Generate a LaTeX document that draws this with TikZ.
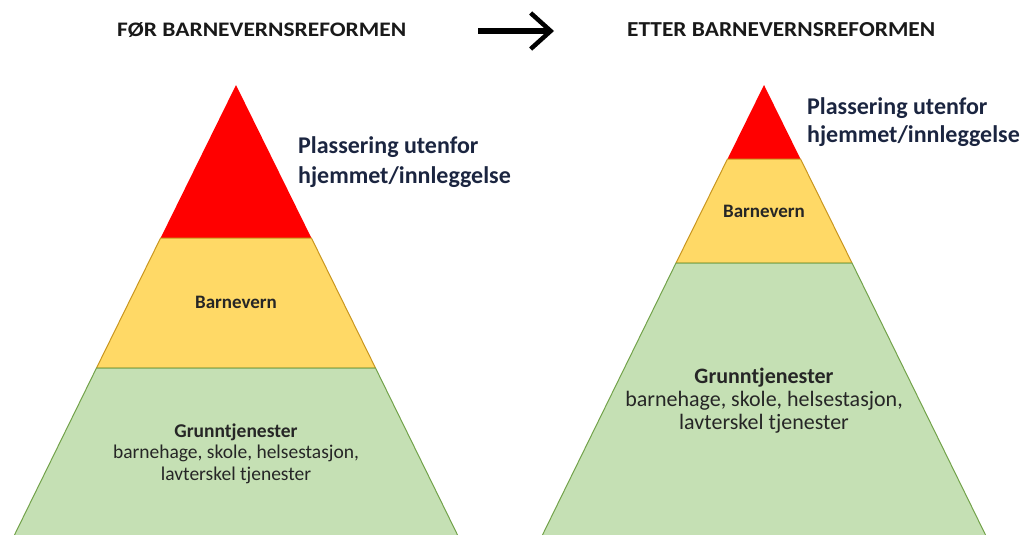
\documentclass[tikz,border=0pt]{standalone}
\usepackage{fontspec}
\setmainfont{Carlito}
\usetikzlibrary{arrows.meta}
\definecolor{redL}{HTML}{FF0000}
\definecolor{yelL}{HTML}{FFD966}
\definecolor{yelE}{HTML}{C9961F}
\definecolor{grnL}{HTML}{C5E0B4}
\definecolor{grnE}{HTML}{72A24A}
\definecolor{navy}{HTML}{1B2540}
\definecolor{inner}{HTML}{262626}
\tikzset{
  lbl/.style={inner sep=0pt, anchor=base, align=center, text=inner},
  side/.style={inner sep=0pt, anchor=base west, align=left, text=navy},
  ttl/.style={inner sep=0pt, anchor=base west, text=black!90},
  layer/.style={line width=1pt, line join=round}
}
\begin{document}
\begin{tikzpicture}[x=1pt,y=-1pt]
\useasboundingbox (0,0) rectangle (1030,535);
\clip (0,0) rectangle (1030,535);
% titles
\node[ttl] (t1) at (117,37) {\resizebox{289pt}{14pt}{\bfseries FØR BARNEVERNSREFORMEN}};
\node[ttl] (t2) at (627,37) {\resizebox{308pt}{14pt}{\bfseries ETTER BARNEVERNSREFORMEN}};
\coordinate (a1) at (478,31);
\coordinate (a2) at (554,31);
\draw[line width=6pt, -{Straight Barb[length=20pt, width=36pt, line width=4.5pt]}] (a1) -- (a2);
% left pyramid
\fill[redL] (236,85) -- (311.4,238) -- (160.6,238) -- cycle;
\draw[layer, fill=yelL, draw=yelE] (160.6,238) -- (311.4,238) -- (375.5,368) -- (96.5,368) -- cycle;
\draw[layer, fill=grnL, draw=grnE] (96.5,368) -- (375.5,368) -- (460,540) -- (12,540) -- cycle;
% right pyramid
\fill[redL] (764,85) -- (800.5,159) -- (727.5,159) -- cycle;
\draw[layer, fill=yelL, draw=yelE] (727.5,159) -- (800.5,159) -- (852,263) -- (676,263) -- cycle;
\draw[layer, fill=grnL, draw=grnE] (676,263) -- (852,263) -- (988,540) -- (540,540) -- cycle;
% labels
\node[side, font=\bfseries\fontsize{24}{30}\selectfont] (pL) at (298,183) {Plassering utenfor\\hjemmet/innleggelse};
\node[side, font=\bfseries\fontsize{24}{28}\selectfont] (pR) at (807,142) {Plassering utenfor\\hjemmet/innleggelse};
\node[lbl, font=\bfseries\fontsize{19}{23}\selectfont] (bL) at (236,308) {Barnevern};
\node[lbl, font=\bfseries\fontsize{19}{23}\selectfont] (bR) at (764,217) {Barnevern};
\node[lbl, font=\fontsize{19.5}{21.5}\selectfont] (gL) at (236,480) {\textbf{Grunntjenester}\\barnehage, skole, helsestasjon,\\lavterskel tjenester};
\node[lbl, font=\fontsize{22}{23}\selectfont] (gR) at (764,429) {\textbf{Grunntjenester}\\barnehage, skole, helsestasjon,\\lavterskel tjenester};
\end{tikzpicture}
\end{document}
